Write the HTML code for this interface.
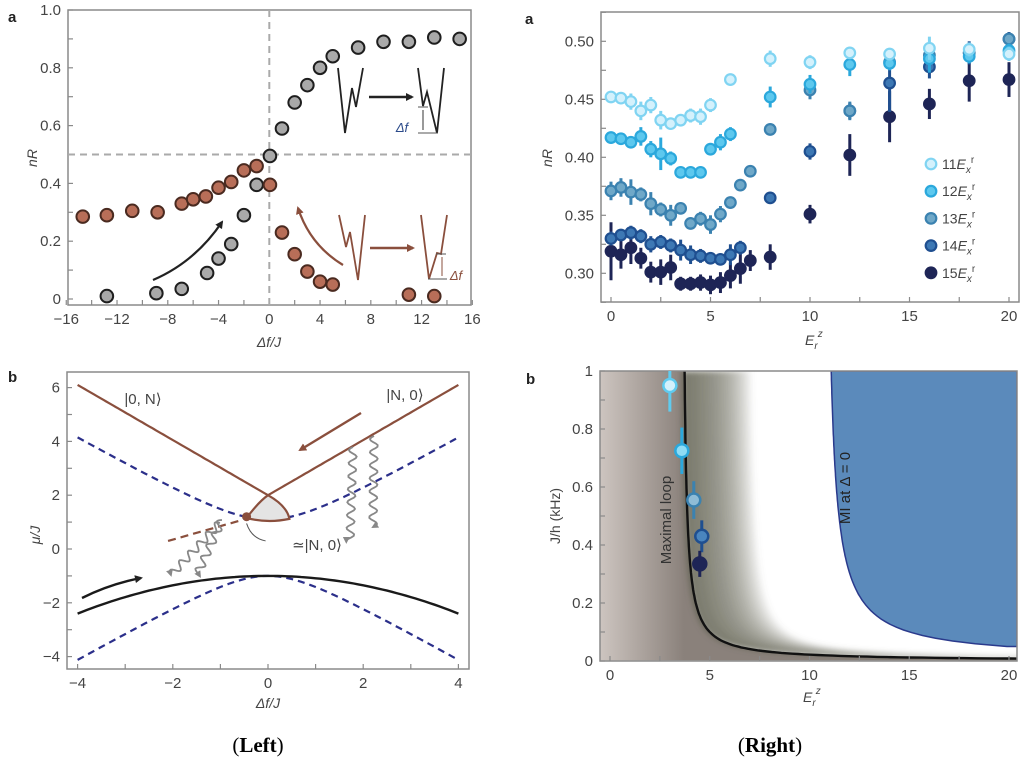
<!DOCTYPE html>
<html><head><meta charset="utf-8"><style>
html,body{margin:0;padding:0;background:#fff;}
svg{display:block;font-family:"Liberation Sans",sans-serif;}
</style></head><body>
<svg id="fig" width="1024" height="761" viewBox="0 0 1024 761" xmlns="http://www.w3.org/2000/svg">
<defs>
<clipPath id="clipBR"><rect x="600" y="371" width="417" height="290"/></clipPath>
<filter id="blurF" x="-10%" y="-10%" width="120%" height="120%"><feGaussianBlur stdDeviation="3"/></filter>
<linearGradient id="gLeft" gradientUnits="userSpaceOnUse" x1="600" y1="0" x2="684" y2="0">
<stop offset="0" stop-color="#cdc5c0"/><stop offset="1" stop-color="#8a817b"/></linearGradient>
<marker id="arrB" markerWidth="8" markerHeight="8" refX="6" refY="4" orient="auto" markerUnits="userSpaceOnUse"><path d="M0,0 L8,4 L0,8 z" fill="#222"/></marker>
<marker id="arrR" markerWidth="8" markerHeight="8" refX="6" refY="4" orient="auto" markerUnits="userSpaceOnUse"><path d="M0,0 L8,4 L0,8 z" fill="#8a4f3d"/></marker>
<marker id="arrG" markerWidth="7" markerHeight="7" refX="5" refY="3.5" orient="auto" markerUnits="userSpaceOnUse"><path d="M0,0 L7,3.5 L0,7 z" fill="#888"/></marker>
</defs>
<g id="root"></g>
<text x="8" y="22" font-size="15" font-weight="bold" fill="#222">a</text>
<text x="525" y="24" font-size="15" font-weight="bold" fill="#222">a</text>
<text x="8" y="382" font-size="15" font-weight="bold" fill="#222">b</text>
<text x="526" y="384" font-size="15" font-weight="bold" fill="#222">b</text>
<text x="258" y="752" font-size="21" text-anchor="middle" font-family="Liberation Serif,serif" fill="#000">(<tspan font-weight="bold">Left</tspan>)</text>
<text x="770" y="752" font-size="21" text-anchor="middle" font-family="Liberation Serif,serif" fill="#000">(<tspan font-weight="bold">Right</tspan>)</text>
</svg>
<script>
// ---------- DATA ----------
const tlXTicks = [-16,-12,-8,-4,0,4,8,12,16];
const tlYTicks = [0,0.2,0.4,0.6,0.8,1.0];
const tlYLabels = ["0","0.2","0.4","0.6","0.8","1.0"];
const grayX = [-12.8,-8.9,-6.9,-4.9,-4,-3,-2,-1,0.05,1,2,3,4,5,7,9,11,13,15];
const grayY = [0.01,0.02,0.035,0.09,0.14,0.19,0.29,0.395,0.495,0.59,0.68,0.74,0.80,0.84,0.87,0.89,0.89,0.905,0.90];
const brownX = [-14.7,-12.8,-10.8,-8.8,-6.9,-6,-5,-4,-3,-2,-1,0.05,1,2,3,4,5,11,13];
const brownY = [0.285,0.29,0.305,0.30,0.33,0.345,0.355,0.385,0.405,0.445,0.46,0.395,0.23,0.155,0.095,0.06,0.05,0.015,0.01];

const trXTicks = [0,5,10,15,20];
const trYTicks = [0.30,0.35,0.40,0.45,0.50];
const trYLabels = ["0.30","0.35","0.40","0.45","0.50"];
const x11 = [0,0.5,1,1.5,2,2.5,3,3.5,4,4.5,5,6,8,10,12,14,16,18,20];
const y11 = [0.452,0.451,0.448,0.44,0.445,0.432,0.429,0.432,0.436,0.435,0.445,0.467,0.485,0.482,0.49,0.489,0.494,0.493,0.489];
const e11 = [0.005,0.005,0.007,0.008,0.007,0.008,0.005,0.005,0.006,0.007,0.006,0.005,0.007,0.006,0.005,0.005,0.01,0.006,0.006];
const x12 = [0,0.5,1,1.5,2,2.5,3,3.5,4,4.5,5,5.5,6,8,10,12,14,16,18,20];
const y12 = [0.417,0.416,0.413,0.418,0.407,0.403,0.399,0.387,0.387,0.387,0.407,0.413,0.42,0.452,0.463,0.48,0.481,0.485,0.487,0.492];
const e12 = [0.005,0.005,0.005,0.008,0.007,0.014,0.006,0.004,0.004,0.004,0.005,0.007,0.006,0.009,0.008,0.01,0.006,0.012,0.006,0.006];
const x13 = [0,0.5,1,1.5,2,2.5,3,3.5,4,4.5,5,5.5,6,6.5,7,8,10,12,14,16,18,20];
const y13 = [0.371,0.374,0.37,0.368,0.36,0.355,0.35,0.356,0.343,0.347,0.342,0.351,0.361,0.376,0.388,0.424,0.458,0.44,0.482,0.488,0.49,0.502];
const e13 = [0.008,0.008,0.011,0.006,0.01,0.006,0.009,0.005,0.005,0.006,0.008,0.007,0.005,0.005,0.005,0.005,0.008,0.008,0.005,0.008,0.006,0.005];
const x14 = [0,0.5,1,1.5,2,2.5,3,3.5,4,4.5,5,5.5,6,6.5,8,10,12,14,16,18,20];
const y14 = [0.33,0.333,0.335,0.332,0.325,0.327,0.324,0.32,0.316,0.315,0.313,0.312,0.316,0.322,0.365,0.405,0.44,0.464,0.478,0.49,0.502];
const e14 = [0.006,0.005,0.006,0.006,0.007,0.006,0.006,0.009,0.008,0.006,0.005,0.005,0.009,0.006,0.005,0.007,0.007,0.025,0.01,0.01,0.006];
const x15 = [0,0.5,1,1.5,2,2.5,3,3.5,4,4.5,5,5.5,6,6.5,7,8,10,12,14,16,18,20];
const y15 = [0.319,0.316,0.322,0.313,0.301,0.301,0.305,0.291,0.291,0.292,0.29,0.292,0.298,0.304,0.311,0.314,0.351,0.402,0.435,0.446,0.466,0.467];
const e15 = [0.025,0.012,0.014,0.009,0.009,0.011,0.011,0.006,0.006,0.007,0.008,0.009,0.011,0.013,0.009,0.011,0.008,0.018,0.022,0.013,0.018,0.015];
const legendLabels = ["11","12","13","14","15"];

const blXTicks = [-4,-2,0,2,4];
const blYTicks = [-4,-2,0,2,4,6];

const brXTicks = [0,5,10,15,20];
const brYTicks = [0,0.2,0.4,0.6,0.8,1];
const brYLabels = ["0","0.2","0.4","0.6","0.8","1"];
const brPtX = [3.0,3.6,4.2,4.6,4.5];
const brPtY = [0.95,0.725,0.555,0.43,0.335];
const brPtE = [0.09,0.08,0.065,0.055,0.045];

// ---------- helpers ----------
const NS = "http://www.w3.org/2000/svg";
const root = document.getElementById('root');
function mk(tag, attrs, parent){
  const e = document.createElementNS(NS, tag);
  for (const k in attrs) e.setAttribute(k, attrs[k]);
  (parent||root).appendChild(e);
  return e;
}
function txt(x,y,s,size,anchor,parent){
  const t = mk('text',{x:x,y:y,'font-size':size,'text-anchor':anchor||'middle',fill:'#444'},parent);
  t.textContent = s;
  return t;
}
function axes(g, box, sx, sy, xt, xl, yt, yl, xminor, yminor){
  const r = mk('rect',{x:box[0],y:box[1],width:box[2]-box[0],height:box[3]-box[1],fill:'none',stroke:'#8a8a8a','stroke-width':1.5},g);
  
  
  xminor.forEach(v=>{const l=mk('line',{x1:sx(v),x2:sx(v),y1:box[3],y2:box[3]-5,stroke:'#8a8a8a','stroke-width':1.2},g);
     });
  yminor.forEach(v=>{const l=mk('line',{x1:box[0],x2:box[0]+5,y1:sy(v),y2:sy(v),stroke:'#8a8a8a','stroke-width':1.2},g);
     });
  xt.forEach((v,i)=>{const t=txt(sx(v),box[3]+19,xl[i],15,'middle',g);
     });
  yt.forEach((v,i)=>{const t=txt(box[0]-7,sy(v)+5,yl[i],15,'end',g);
     });
}
function range(a,b,s){const r=[];for(let v=a;v<=b+1e-9;v+=s)r.push(+v.toFixed(4));return r;}
function fmtMinus(v){return v<0?'\u2212'+(-v):String(v);}

// ---------- TOP LEFT ----------
(function(){
  const g = mk('g',{});  
  const sx = x=>269.3+x*12.69, sy = y=>299-y*289;
  const box=[68,10,471,305];
  axes(g,box,sx,sy,tlXTicks,tlXTicks.map(fmtMinus),tlYTicks,tlYLabels,range(-16,16,2),range(0,1,0.1));
  const v=mk('line',{x1:sx(0),x2:sx(0),y1:box[1],y2:box[3],stroke:'#aaa','stroke-width':2,'stroke-dasharray':'7,5'},g);
   
  const h=mk('line',{x1:box[0],x2:box[2],y1:sy(0.5),y2:sy(0.5),stroke:'#aaa','stroke-width':2,'stroke-dasharray':'7,5'},g);
   
  grayX.forEach((x,i)=>{const c=mk('circle',{cx:sx(x),cy:sy(grayY[i]),r:6.3,fill:'#a9a9a9',stroke:'#1e1e1e','stroke-width':2},g);
     });
  brownX.forEach((x,i)=>{const c=mk('circle',{cx:sx(x),cy:sy(brownY[i]),r:6.3,fill:'#b86e58',stroke:'#4a2a20','stroke-width':2},g);
     });
  const a1=mk('path',{d:'M153,280 Q195,262 222,222',fill:'none',stroke:'#222','stroke-width':2.2,'marker-end':'url(#arrB)'},g);
   
  const a2=mk('path',{d:'M343,265 Q310,245 298,208',fill:'none',stroke:'#8a4f3d','stroke-width':2.2,'marker-end':'url(#arrR)'},g);
   
  const w1=mk('path',{d:'M338,68 L345,133 L352,88 L356,107 L363,68',fill:'none',stroke:'#222','stroke-width':1.8},g);
   
  const ar1=mk('line',{x1:369,y1:97,x2:412,y2:97,stroke:'#222','stroke-width':2.5,'marker-end':'url(#arrB)'},g);
   
  const w2=mk('path',{d:'M418,68 L423,106 L427,92 L437,133 L444,68',fill:'none',stroke:'#222','stroke-width':1.8},g);
   
  mk('line',{x1:418,y1:107,x2:428,y2:107,stroke:'#555','stroke-width':1},g);
  mk('line',{x1:418,y1:133,x2:438,y2:133,stroke:'#555','stroke-width':1},g);
  mk('line',{x1:423,y1:110,x2:423,y2:130,stroke:'#333','stroke-width':1},g);
  const d1=txt(402,132,'\u0394f',13,'middle',g); d1.setAttribute('fill','#2b4a8a'); d1.setAttribute('font-style','italic');
   
  const w3=mk('path',{d:'M339,215 L346,247 L350,232 L358,280 L365,215',fill:'none',stroke:'#8a4f3d','stroke-width':1.8},g);
   
  const ar2=mk('line',{x1:370,y1:248,x2:413,y2:248,stroke:'#8a4f3d','stroke-width':2.5,'marker-end':'url(#arrR)'},g);
   
  const w4=mk('path',{d:'M421,215 L429,279 L437,253 L441,254 L447,215',fill:'none',stroke:'#8a4f3d','stroke-width':1.8},g);
   
  mk('line',{x1:428,y1:279,x2:447,y2:279,stroke:'#555','stroke-width':1},g);
  mk('line',{x1:436,y1:254,x2:446,y2:254,stroke:'#555','stroke-width':1},g);
  mk('line',{x1:442,y1:257,x2:442,y2:276,stroke:'#8a4f3d','stroke-width':1},g);
  const d2=txt(456,280,'\u0394f',13,'middle',g); d2.setAttribute('fill','#8a4f3d'); d2.setAttribute('font-style','italic');
   
  const xl=txt(269,347,'\u0394f/J',14,'middle',g); xl.setAttribute('font-style','italic');
   
  const yl=txt(0,0,'nR',14,'middle',g); yl.setAttribute('transform','translate(37,158) rotate(-90)'); yl.setAttribute('font-style','italic');
   
})();

// ---------- TOP RIGHT ----------
(function(){
  const g = mk('g',{});  
  const sx = x=>611+x*19.9, sy = y=>273.3-(y-0.30)*1160;
  const box=[601,12,1019,302];
  axes(g,box,sx,sy,trXTicks,trXTicks.map(String),trYTicks,trYLabels,range(0,20,2.5),range(0.275,0.525,0.025));
  const series=[[x15,y15,e15,'#1e2556','#1e2556'],[x14,y14,e14,'#3d78b4','#1f4f90'],[x13,y13,e13,'#6fa8c8','#3b82b0'],[x12,y12,e12,'#5dc8ee','#2ba8dc'],[x11,y11,e11,'#d4f1fc','#80d4f2']];
  series.forEach((s,k)=>{
    s[0].forEach((x,i)=>{
      const l=mk('line',{x1:sx(x),x2:sx(x),y1:sy(s[1][i]-s[2][i]),y2:sy(s[1][i]+s[2][i]),stroke:s[4],'stroke-width':3},g);
       
      const c=mk('circle',{cx:sx(x),cy:sy(s[1][i]),r:5.3,fill:s[3],stroke:s[4],'stroke-width':2.2},g);
       
    });
  });
  const lc=[['#d4f1fc','#80d4f2'],['#5dc8ee','#2ba8dc'],['#6fa8c8','#3b82b0'],['#3d78b4','#1f4f90'],['#1e2556','#1e2556']];
  legendLabels.forEach((lab,i)=>{
    const y=164+i*27.2;
    const c=mk('circle',{cx:931,cy:y,r:5.3,fill:lc[i][0],stroke:lc[i][1],'stroke-width':2.2},g);
     
    const t=mk('text',{x:942,y:y+5,'font-size':14,fill:'#444'},g);
    t.innerHTML=lab+'<tspan font-style="italic">E</tspan><tspan font-size="10" font-style="italic" dy="4">x</tspan><tspan font-size="10" dy="-10">r</tspan>';
     
  });
  const xl=mk('text',{x:805,y:345,'font-size':14,fill:'#444','font-style':'italic'},g);
  xl.innerHTML='E<tspan font-size="10" dy="4">r</tspan><tspan font-size="10" dy="-12">z</tspan>';
   
  const yl=txt(0,0,'nR',14,'middle',g); yl.setAttribute('transform','translate(552,158) rotate(-90)'); yl.setAttribute('font-style','italic');
   
})();

// ---------- BOTTOM LEFT ----------
(function(){
  const g = mk('g',{});  
  const sx = x=>268+x*47.6, sy = y=>549-y*26.9;
  const box=[67,372,469,669];
  axes(g,box,sx,sy,blXTicks,blXTicks.map(fmtMinus),blYTicks,blYTicks.map(fmtMinus),range(-4,4,1),range(-4,6,1));
  function curve(f,a,b,attrs,name){
    let d='';for(let i=0;i<=80;i++){const x=a+(b-a)*i/80;d+=(i?'L':'M')+sx(x).toFixed(1)+','+sy(f(x)).toFixed(1);}
    attrs.d=d;attrs.fill='none';const p=mk('path',attrs,g);
     return p;
  }
  curve(x=>Math.sqrt(x*x+1.21),-4,4,{stroke:'#2b2f8a','stroke-width':2.2,'stroke-dasharray':'7,5'},'upper-dashed-band');
  curve(x=>-Math.sqrt(x*x+1),-4,4,{stroke:'#2b2f8a','stroke-width':2.2,'stroke-dasharray':'7,5'},'lower-dashed-band');
  curve(x=>-1-0.0875*x*x,-4,4,{stroke:'#1a1a1a','stroke-width':2.4},'ground-state-curve');
  curve(x=>2-1.025*x,-4,0,{stroke:'#8a4f3d','stroke-width':2.2},'state-0N-line');
  curve(x=>2+1.025*x,0,4,{stroke:'#8a4f3d','stroke-width':2.2},'state-N0-line');
  const loop=mk('path',{d:`M${sx(-0.45)},${sy(1.15)} Q${sx(-0.2)},${sy(1.75)} ${sx(0)},${sy(2)} Q${sx(0.4)},${sy(1.6)} ${sx(0.45)},${sy(1.12)} Q${sx(0)},${sy(0.95)} ${sx(-0.45)},${sy(1.15)} Z`,fill:'#e4e4e4',stroke:'#8a4f3d','stroke-width':2.2},g);
   
  const dot=mk('circle',{cx:sx(-0.45),cy:sy(1.2),r:4.5,fill:'#8a4f3d'},g);
   
  const bd=mk('line',{x1:sx(-2.1),y1:sy(0.3),x2:sx(-0.6),y2:sy(1.05),stroke:'#8a4f3d','stroke-width':2.2,'stroke-dasharray':'8,5'},g);
   
  const pointer=mk('path',{d:`M${sx(-0.45)},${sy(0.95)} Q${sx(-0.35)},${sy(0.4)} ${sx(-0.05)},${sy(0.3)}`,fill:'none',stroke:'#555','stroke-width':1},g);
   
  function wave(x0,y0,x1,y1,name){
    const n=60,dx=x1-x0,dy=y1-y0,L=Math.hypot(dx,dy),ux=dx/L,uy=dy/L;let d='';
    for(let i=0;i<=n;i++){const t=i/n,a=Math.sin(t*L/13*2*Math.PI)*4;const x=x0+dx*t-uy*a,y=y0+dy*t+ux*a;d+=(i?'L':'M')+x.toFixed(1)+','+y.toFixed(1);}
    const p=mk('path',{d:d,fill:'none',stroke:'#888','stroke-width':1.8,'marker-end':'url(#arrG)'},g);
     
  }
  wave(353,447,350,542,'decay-wave-arrow');
  wave(374,436,373,527,'decay-wave-arrow');
  wave(220,523,171,575,'decay-wave-arrow');
  wave(222,520,197,575,'decay-wave-arrow');
  const ba=mk('path',{d:'M82,598 Q110,584 141,578',fill:'none',stroke:'#1a1a1a','stroke-width':2.4,'marker-end':'url(#arrB)'},g);
   
  const ra=mk('line',{x1:361,y1:413,x2:300,y2:450,stroke:'#8a4f3d','stroke-width':2.4,'marker-end':'url(#arrR)'},g);
   
  const t1=txt(143,404,'|0, N\u27E9',15,'middle',g);  
  const t2=txt(405,400,'|N, 0\u27E9',15,'middle',g);  
  const t3=txt(317,550,'\u2243|N, 0\u27E9',15,'middle',g);  
  const xl=txt(268,708,'\u0394f/J',14,'middle',g); xl.setAttribute('font-style','italic');
   
  const yl=txt(0,0,'\u03BC/J',14,'middle',g); yl.setAttribute('transform','translate(40,535) rotate(-90)'); yl.setAttribute('font-style','italic');
   
})();

// ---------- BOTTOM RIGHT ----------
(function(){
  const g = mk('g',{});  
  const sx = x=>610+x*19.95, sy = y=>661-y*290;
  const box=[600,371,1017,661];
  const cg=mk('g',{'clip-path':'url(#clipBR)'},g);
   
  const Js=[];for(let i=0;i<=120;i++){Js.push(Math.pow(10,-i/120*2.7));}
  const bnd=(J,t)=>3.6+(0.14/J)*(1+0.44*t)+3.3*t;
  let dL=`M590,360`;Js.forEach(J=>{dL+=`L${sx(bnd(J,0)).toFixed(1)},${sy(J).toFixed(1)}`;});dL+=`L590,${sy(Js[Js.length-1])} Z`;
  const lp=mk('path',{d:dL,fill:'url(#gLeft)'},cg);
   
  const bg=mk('g',{filter:'url(#blurF)'},cg);
   
  for(let k=1;k<=30;k++){
    const t=k/30;let d='';
    Js.forEach((J,i)=>{d+=(i?'L':'M')+(sx(bnd(J,0))-3).toFixed(1)+','+sy(J).toFixed(1);});
    for(let i=Js.length-1;i>=0;i--){d+='L'+sx(bnd(Js[i],t)).toFixed(1)+','+sy(Js[i]).toFixed(1);}
    const p=mk('path',{d:d+'Z',fill:'#6e645e','fill-opacity':0.065},bg);
     
  }
  let dB=`M${sx(10.75+0.339)},371`;
  for(let i=0;i<=100;i++){const J=1-i*0.0095;dB+=`L${sx(10.75+0.339/Math.pow(J,1.1)).toFixed(1)},${sy(J).toFixed(1)}`;}
  const blue=mk('path',{d:dB+`L1017,${sy(0.05)}L1017,371Z`,fill:'#5b8abb',stroke:'#2a3a8c','stroke-width':1.5},cg);
   
  let dC='';Js.forEach((J,i)=>{dC+=(i?'L':'M')+sx(bnd(J,0)).toFixed(1)+','+sy(J).toFixed(1);});
  const ml=mk('path',{d:dC,fill:'none',stroke:'#111','stroke-width':2.4},cg);
   
  axes(g,box,sx,sy,brXTicks,brXTicks.map(String),brYTicks,brYLabels,range(0,20,2.5),range(0,1,0.1));
  const pc=[['#d4f1fc','#5fcbef'],['#8fdcf5','#2ba8dc'],['#8fbcd6','#3b82b0'],['#4a85be','#1f4f90'],['#1e2556','#1e2556']];
  brPtX.forEach((x,i)=>{
    const l=mk('line',{x1:sx(x),x2:sx(x),y1:sy(brPtY[i]-brPtE[i]),y2:sy(Math.min(1,brPtY[i]+brPtE[i])),stroke:pc[i][1],'stroke-width':3},g);
     
    const c=mk('circle',{cx:sx(x),cy:sy(brPtY[i]),r:6.5,fill:pc[i][0],stroke:pc[i][1],'stroke-width':2.5},g);
     
  });
  const t1=txt(0,0,'Maximal loop',15,'middle',g); t1.setAttribute('transform','translate(671,520) rotate(-90)'); t1.setAttribute('fill','#333');
   
  const t2=txt(0,0,'MI at \u0394 = 0',15,'middle',g); t2.setAttribute('transform','translate(850,488) rotate(-90)'); t2.setAttribute('fill','#222');
   
  const xl=mk('text',{x:803,y:702,'font-size':14,fill:'#444','font-style':'italic'},g);
  xl.innerHTML='E<tspan font-size="10" dy="4">r</tspan><tspan font-size="10" dy="-12">z</tspan>';
   
  const yl=txt(0,0,'J/h (kHz)',14,'middle',g); yl.setAttribute('transform','translate(560,516) rotate(-90)');
   
})();
</script>
</body></html>
